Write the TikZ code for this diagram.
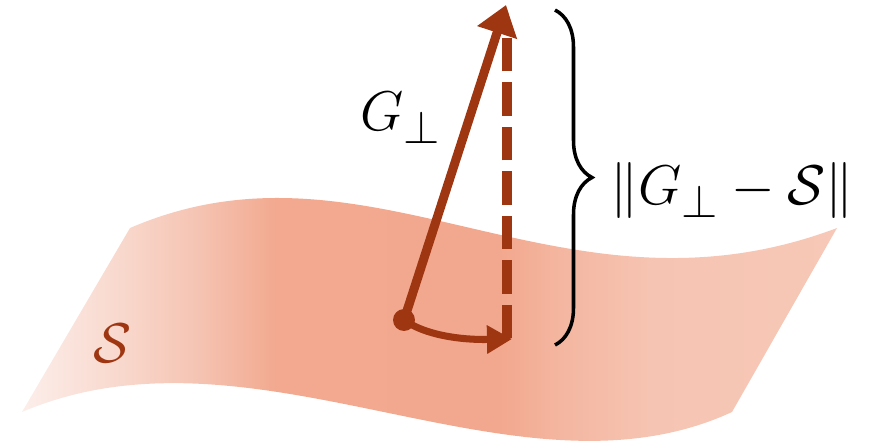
\documentclass[tikz,border=0pt]{standalone}
\usepackage{amsmath, amssymb}
\usepackage{graphicx}
\usepackage{xcolor}
\usepackage{tikz}
\usetikzlibrary{positioning,arrows.meta,calc,decorations.pathreplacing}
\definecolor{mRust}{HTML}{9E3612}
\definecolor{mSheetA}{HTML}{FCEEEA}
\definecolor{mSheetB}{HTML}{F8D6CA}
\definecolor{mSheetC}{HTML}{F5C3B2}
\definecolor{mSheetD}{HTML}{F2A98F}
\definecolor{mSheetE}{HTML}{F2A88E}
\definecolor{mSheetF}{HTML}{F4B6A0}
\definecolor{mSheetG}{HTML}{F6C4B2}
\definecolor{mSheetH}{HTML}{F7C8B7}
\pgfdeclarehorizontalshading{sheetshade}{100bp}{color(0bp)=(mSheetA); color(25bp)=(mSheetA); color(31.6bp)=(mSheetB); color(35.9bp)=(mSheetC); color(40.6bp)=(mSheetD); color(54.3bp)=(mSheetE); color(58bp)=(mSheetF); color(63.5bp)=(mSheetG); color(75bp)=(mSheetH); color(100bp)=(mSheetH)}
\newcommand{\bigmath}[1]{\scalebox{1.6}{\Huge$#1$}}

\begin{document}
\begin{tikzpicture}[x=0.025cm, y=-0.025cm]
\useasboundingbox (0,0) rectangle (878,443);
% the surface S
\shade[shading=sheetshade] (130,228) .. controls (371,124) and (561,332) .. (837,228)
  -- (732,412) .. controls (515,512) and (257,312) .. (22,412) -- cycle;
\node[text=mRust, inner sep=0, anchor=base west] (slabel) at (93,362) {\bigmath{\mathcal{S}}};
% vectors
\node[circle, fill=mRust, inner sep=0, minimum size=15.6pt] (base) at (404,320) {};
\coordinate (tip) at (506,5);
\coordinate (top) at (507,37);
\coordinate (foot) at (507,338);
\coordinate (hook) at (512,339);
\draw[mRust, line width=7.1pt, dash pattern=on 23.8pt off 7.8pt] (foot) -- (top);
\draw[mRust, line width=6.4pt, -{Triangle[length=20.6pt, width=28.5pt]}] (base.center) -- (tip);
\draw[mRust, line width=5pt, -{Triangle[length=17.8pt, width=19.2pt]}] (base.center) .. controls (425,335) and (460,340) .. (hook);
\node[inner sep=0, anchor=base west] (glabel) at (360,130) {\bigmath{G_\perp}};
% distance
\coordinate (bracetop) at (555,10);
\coordinate (bracebot) at (555,345);
\draw[line width=2.5pt, decorate, decoration={brace, amplitude=26.3pt}] (bracetop) -- (bracebot);
\node[inner sep=0, anchor=base west] (dlabel) at (610,204) {\bigmath{\|G_\perp-\mathcal{S}\|}};
\end{tikzpicture}
\end{document}
